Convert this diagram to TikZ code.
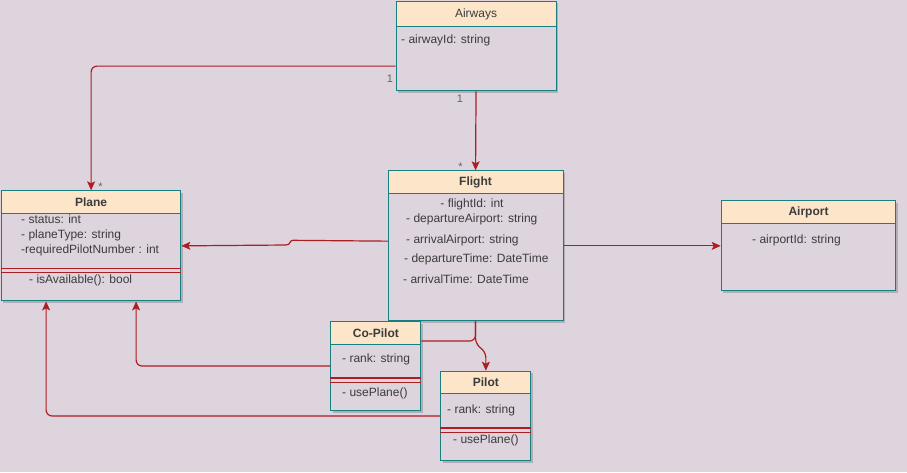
\documentclass[tikz,border=0pt]{standalone}
\usepackage{fontspec}
\setmainfont{Liberation Sans}
\usetikzlibrary{arrows.meta,shadows,calc}
\definecolor{bgc}{RGB}{221,212,221}
\definecolor{hdrc}{RGB}{252,229,200}
\definecolor{edge}{RGB}{22,128,128}
\definecolor{link}{RGB}{172,30,34}
\definecolor{txt}{RGB}{60,60,60}
\begin{document}
\begin{tikzpicture}[x=1pt,y=-1pt,
  classbox/.style={draw=edge, line width=1.1pt, fill=bgc, rectangle, inner sep=0pt,
    anchor=north west,
    drop shadow={shadow xshift=2pt, shadow yshift=-2pt, opacity=0.18, fill=black}},
  hdr/.style={draw=edge, line width=1.1pt, fill=hdrc, rectangle, inner sep=0pt,
    anchor=north west, text=txt, font=\fontsize{12}{14}\selectfont\bfseries},
  attr/.style={anchor=west, inner sep=0pt, text=txt, font=\fontsize{12}{14}\selectfont},
  mult/.style={inner sep=0pt, text=txt!80, font=\fontsize{11}{13}\selectfont},
  sep/.style={draw=link, line width=1.1pt},
  conn/.style={draw=link, line width=1.2pt, rounded corners=6pt},
  arr/.style={conn, -{Stealth[length=9pt,width=8pt,inset=2pt]}}
]
\fill[bgc] (0,0) rectangle (907,472);
\useasboundingbox (0,0) rectangle (907,472);

% ---------- Airways ----------
\node[classbox, minimum width=160pt, minimum height=89.5pt] (airways) at (395.5,0.8) {};
\node[hdr, minimum width=160pt, minimum height=25.5pt, font=\fontsize{12}{14}\selectfont] (airwaysH) at (395.5,0.8) {Airways};
\node[attr] (airwaysA) at (401,40) {- airwayId: string};

% ---------- Plane ----------
\node[classbox, minimum width=179.5pt, minimum height=110pt] (plane) at (0.8,190.3) {};
\node[hdr, minimum width=179.5pt, minimum height=23pt] (planeH) at (0.8,190.3) {Plane};
\node[attr] (planeA1) at (21,219) {- status: int};
\node[attr] (planeA2) at (21,235) {- planeType: string};
\node[attr] (planeA3) at (21,250) {-requiredPilotNumber : int};
\draw[sep] (plane.west |- 0,268.3) -- (plane.east |- 0,268.3);
\draw[sep] (plane.west |- 0,272.6) -- (plane.east |- 0,272.6);
\node[attr] (planeM1) at (29,280) {- isAvailable(): bool};

% ---------- Flight ----------
\node[classbox, minimum width=175pt, minimum height=150pt] (flight) at (387.5,170.3) {};
\node[hdr, minimum width=175pt, minimum height=23pt] (flightH) at (387.5,170.3) {Flight};
\node[attr, anchor=center] (flightA1) at (472,204) {- flightId: int};
\node[attr] (flightA2) at (406,219) {- departureAirport: string};
\node[attr] (flightA3) at (406,240) {- arrivalAirport: string};
\node[attr] (flightA4) at (404,259) {- departureTime: DateTime};
\node[attr] (flightA5) at (403,279) {- arrivalTime: DateTime};

% ---------- Airport ----------
\node[classbox, minimum width=174.5pt, minimum height=90pt] (airport) at (720.7,200.3) {};
\node[hdr, minimum width=174.5pt, minimum height=23pt] (airportH) at (720.7,200.3) {Airport};
\node[attr] (airportA) at (752,240) {- airportId: string};

% ---------- Co-Pilot ----------
\node[classbox, minimum width=90pt, minimum height=89pt] (copilot) at (330.3,321) {};
\node[hdr, minimum width=90pt, minimum height=22.5pt] (copilotH) at (330.3,321) {Co-Pilot};
\node[attr] (copilotA) at (342,359) {- rank: string};
\draw[sep] (copilot.west |- 0,378) -- (copilot.east |- 0,378);
\draw[sep] (copilot.west |- 0,382.3) -- (copilot.east |- 0,382.3);
\node[attr] (copilotM) at (342,393) {- usePlane()};

% ---------- Pilot ----------
\node[classbox, minimum width=90pt, minimum height=89.5pt] (pilot) at (440.3,370.7) {};
\node[hdr, minimum width=90pt, minimum height=22.5pt] (pilotH) at (440.3,370.7) {Pilot};
\node[attr] (pilotA) at (447,410) {- rank: string};
\draw[sep] (pilot.west |- 0,428) -- (pilot.east |- 0,428);
\draw[sep] (pilot.west |- 0,432.3) -- (pilot.east |- 0,432.3);
\node[attr] (pilotM) at (453,440) {- usePlane()};

% ---------- associations ----------
% Airways -> Plane
\draw[arr] ([yshift=-20pt]airways.west) -| (plane.north);
\node[mult] (m1) at (390,79) {1};
\node[mult] (m2) at (100.5,187) {*};

% Airways -> Flight
\draw[arr] (airways.south) -- (flight.north);
\node[mult] (m3) at (460,99) {1};
\node[mult] (m4) at (460.5,167) {*};

% Flight -> Plane (with a small jog)
\draw[arr, rounded corners=0pt] ([yshift=4.7pt]flight.west) -- (293,240.3)
  .. controls (289,240.3) and (291,245) .. (286,245) -- (plane.east);

% Flight -> Airport
\draw[arr] (flight.east) -- (airport.west);

% Co-Pilot -- Flight
\draw[conn] ([yshift=25pt]copilot.east) -| (flight.south);

% Flight -> Pilot
\draw[arr, rounded corners=5pt] (flight.south) -- ++(0,22) -- ([yshift=18pt]pilot.north) -- (pilot.north);

% Co-Pilot -> Plane
\draw[arr] (copilot.west) -| ([xshift=45pt]plane.south);

% Pilot -> Plane
\draw[arr] (pilot.west) -| ([xshift=-45pt]plane.south);
\end{tikzpicture}
\end{document}
